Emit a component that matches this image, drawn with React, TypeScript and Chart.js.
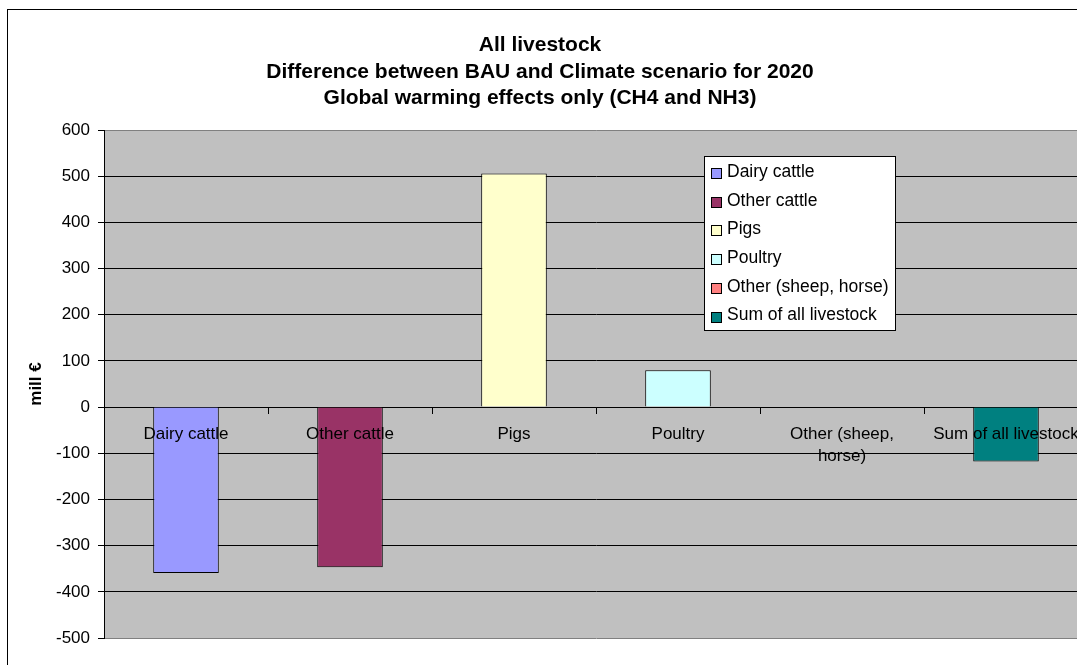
import React, { useEffect, useRef } from "react";
import { Chart, registerables } from "chart.js";

Chart.register(...registerables);

const categories = ["Dairy cattle", "Other cattle", "Pigs", "Poultry", "Other (sheep, horse)", "Sum of all livestock"];
const tickLabels: (string | string[])[] = ["Dairy cattle", "Other cattle", "Pigs", "Poultry", ["Other (sheep,", "horse)"], "Sum of all livestock"];
const values = [-359, -347, 506, 80, 0, -118];
const barColors = ["#9999FF", "#993366", "#FFFFCC", "#CCFFFF", "#FF8080", "#008080"];
const titleLines = ["All livestock", "Difference between BAU and Climate scenario for 2020", "Global warming effects only (CH4 and NH3)"];
const yAxisTitle = "mill €";
const yMin = -500;
const yMax = 600;
const yStep = 100;

const FONT = '"Liberation Sans", Arial, sans-serif';

const bgPlugin = {
  id: "plotBg",
  beforeDraw(chart: any) {
    const { ctx, chartArea } = chart;
    ctx.save();
    ctx.fillStyle = "#C0C0C0";
    ctx.fillRect(chartArea.left, chartArea.top, chartArea.right - chartArea.left, chartArea.bottom - chartArea.top);
    ctx.restore();
  },
};

const titlePlugin = {
  id: "multiTitle",
  afterDraw(chart: any) {
    const { ctx } = chart;
    ctx.save();
    ctx.font = `bold 21px ${FONT}`;
    ctx.fillStyle = "#000";
    ctx.textAlign = "center";
    ctx.textBaseline = "alphabetic";
    titleLines.forEach((line, i) => {
      ctx.fillText(line, 532, 41 + i * 26.6);
    });
    ctx.restore();
  },
};

const legendPlugin = {
  id: "innerLegend",
  afterDraw(chart: any) {
    const { ctx } = chart;
    const bx = 696, by = 146, bw = 191, bh = 174;
    ctx.save();
    ctx.fillStyle = "#FFFFFF";
    ctx.fillRect(bx, by, bw, bh);
    ctx.strokeStyle = "#000";
    ctx.lineWidth = 1;
    ctx.strokeRect(bx + 0.5, by + 0.5, bw, bh);
    ctx.font = `17.5px ${FONT}`;
    ctx.textBaseline = "middle";
    ctx.textAlign = "left";
    categories.forEach((c, i) => {
      const cy = 162 + i * 28.7;
      const sy = Math.round(cy - 4);
      ctx.fillStyle = barColors[i];
      ctx.fillRect(703, sy, 10, 10);
      ctx.strokeStyle = "#000";
      ctx.strokeRect(703.5, sy + 0.5, 10, 10);
      ctx.fillStyle = "#000";
      ctx.fillText(c, 719, cy);
    });
    ctx.restore();
  },
};

export default function App() {
  const ref = useRef<HTMLCanvasElement>(null);
  useEffect(() => {
    if (!ref.current) return;
    const chart = new Chart(ref.current, {
      type: "bar",
      data: {
        labels: tickLabels as any,
        datasets: [
          {
            data: values,
            backgroundColor: barColors,
            borderColor: "#000",
            borderWidth: 1,
            categoryPercentage: 1,
            barPercentage: 0.4,
          },
        ],
      },
      options: {
        responsive: false,
        animation: false,
        devicePixelRatio: 1,
        layout: { padding: { left: 0, right: 20, top: 120, bottom: 72 } },
        plugins: {
          legend: { display: false },
          title: { display: false },
          tooltip: { enabled: false },
        },
        scales: {
          x: {
            position: { y: 0 } as any,
            offset: true,
            grid: {
              display: true,
              drawOnChartArea: false,
              drawTicks: true,
              tickLength: 6,
              color: "#000",
              offset: true,
            },
            border: { display: true, color: "#000", width: 1 },
            ticks: {
              z: 1,
              color: "#000",
              font: { family: FONT, size: 17, lineHeight: 1.3 },
              padding: 10,
              maxRotation: 0,
              minRotation: 0,
              autoSkip: false,
            } as any,
          },
          y: {
            min: yMin,
            max: yMax,
            afterFit: (s: any) => {
              s.width = 96;
            },
            grid: {
              color: (c: any) => (c.tick && (c.tick.value === yMax || c.tick.value === yMin) ? "#808080" : "#000"),
              tickColor: "#000",
              tickLength: 6,
              lineWidth: 1,
            },
            border: { display: true, color: "#000", width: 1 },
            ticks: {
              stepSize: yStep,
              color: "#000",
              font: { family: FONT, size: 17 },
              padding: 8,
            },
            title: {
              display: true,
              text: yAxisTitle,
              color: "#000",
              font: { family: FONT, size: 17, weight: "bold" },
              padding: { top: 18, bottom: 0 },
            },
          },
        },
      },
      plugins: [bgPlugin, titlePlugin, legendPlugin],
    });
    return () => chart.destroy();
  }, []);

  return (
    <div style={{ position: "fixed", left: 0, top: 0, width: 1077, height: 665, overflow: "hidden", background: "#fff" }}>
      <div style={{ position: "absolute", left: 7, top: 9, width: 1100, height: 700, border: "1px solid #000" }}>
        <canvas ref={ref} width={1100} height={700} style={{ display: "block", width: 1100, height: 700 }} />
      </div>
    </div>
  );
}
